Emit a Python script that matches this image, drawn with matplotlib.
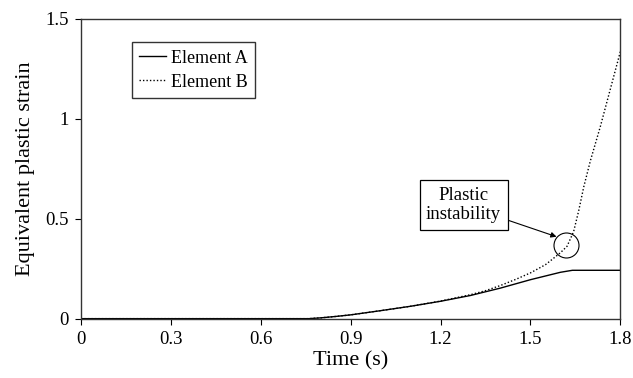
import matplotlib
matplotlib.use("Agg")
import matplotlib.pyplot as plt

# values
t_a = [0, 0.76, 0.8, 0.85, 0.9, 1.0, 1.1, 1.2, 1.3, 1.4, 1.5, 1.6, 1.64, 1.8]
eps_a = [0, 0, 0.004, 0.011, 0.019, 0.040, 0.062, 0.087, 0.116, 0.153, 0.195, 0.232, 0.242, 0.242]

t_b = [0, 0.76, 0.8, 0.85, 0.9, 1.0, 1.1, 1.2, 1.3, 1.35, 1.4, 1.45, 1.5, 1.55, 1.572, 1.6, 1.622,
       1.644, 1.661, 1.678, 1.70, 1.733, 1.767, 1.8]
eps_b = [0, 0, 0.004, 0.011, 0.019, 0.040, 0.062, 0.088, 0.120, 0.140, 0.166, 0.196, 0.229, 0.270, 0.296,
         0.330, 0.362, 0.435, 0.540, 0.660, 0.790, 0.960, 1.151, 1.336]

x_ticks = [0, 0.3, 0.6, 0.9, 1.2, 1.5, 1.8]
y_ticks = [0, 0.5, 1, 1.5]

plt.rcParams["font.family"] = ["Liberation Serif", "DejaVu Serif"]

fig = plt.figure(figsize=(6.33, 3.78), dpi=100)
ax = fig.add_axes([0.128, 0.157, 0.852, 0.793])

ax.plot(t_a, eps_a, color="black", lw=1.0, label="Element A")
ax.plot(t_b, eps_b, color="black", lw=1.0, linestyle=(0, (1, 1.5)), label="Element B")

ax.set_xlim(0, 1.8)
ax.set_ylim(0, 1.5)
ax.set_xticks(x_ticks)
ax.set_xticklabels([f"{v:g}" for v in x_ticks])
ax.set_yticks(y_ticks)
ax.set_yticklabels([f"{v:g}" for v in y_ticks])
ax.tick_params(direction="out", length=4, width=0.8, labelsize=13.5, pad=5)
for s in ax.spines.values():
    s.set_linewidth(1.0)
    s.set_color("#333333")

ax.set_xlabel("Time (s)", fontsize=16, labelpad=2)
ax.set_ylabel("Equivalent plastic strain", fontsize=16, labelpad=7)

leg = ax.legend(loc="upper left", bbox_to_anchor=(0.094, 0.922), fontsize=13,
                frameon=True, fancybox=False, edgecolor="black", handlelength=1.5,
                handletextpad=0.3, borderpad=0.4, labelspacing=0.4, borderaxespad=0)
leg.get_frame().set_linewidth(1.0)

# circle around the instability point
ax.plot([1.62], [0.37], marker="o", ms=18, mfc="none", mec="black", mew=0.8)

ax.annotate("Plastic\ninstability", xy=(1.587, 0.41), xytext=(1.277, 0.568),
            fontsize=13.5, ha="center", va="center", multialignment="center",
            bbox=dict(boxstyle="square,pad=0.35", fc="white", ec="black", lw=0.9),
            arrowprops=dict(arrowstyle="-|>", color="black", lw=0.8, mutation_scale=8,
                            shrinkA=0, shrinkB=0))

fig.savefig("out.png", dpi=100)
